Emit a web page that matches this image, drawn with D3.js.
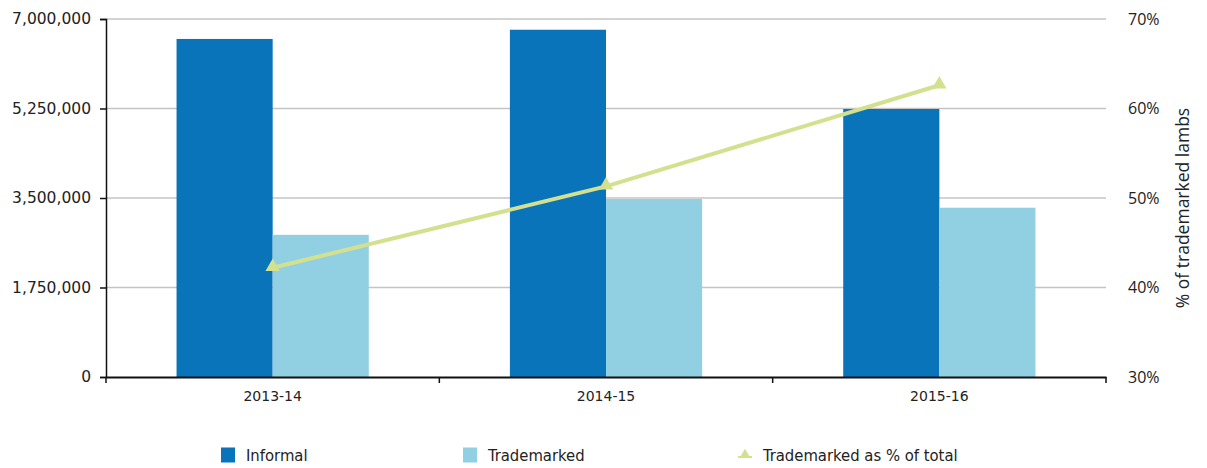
<!DOCTYPE html>
<html>
<head>
<meta charset="utf-8">
<script src="https://cdn.jsdelivr.net/npm/d3@7"></script>
<style>
  body { margin: 0; background: #fff; }
  text { font-family: "DejaVu Sans", sans-serif; fill: #222; }
</style>
</head>
<body>
<svg class="chart"></svg>
<script>
var width = 1207,
    height = 468;

var categories = ["2013-14", "2014-15", "2015-16"];
var informal = [6610000, 6790000, 5240000];
var trademarked = [2780000, 3480000, 3310000];
var pctTrademarked = [42.2, 51.3, 62.6];
var leftTicks = [0, 1750000, 3500000, 5250000, 7000000];
var rightTicks = [30, 40, 50, 60, 70];

var margin = {left: 106, right: 101, top: 19, bottom: 91};
var x0 = d3.scaleBand()
    .domain(categories)
    .range([margin.left, width - margin.right]);
var x1 = d3.scaleBand()
    .domain(["Informal", "Trademarked"])
    .range([0, x0.bandwidth()])
    .paddingOuter(0.734);
var y = d3.scaleLinear()
    .domain([0, 7000000])
    .range([height - margin.bottom, margin.top]);
var y2 = d3.scaleLinear()
    .domain([30, 70])
    .range([height - margin.bottom, margin.top]);

var colors = {Informal: "#0a74bb", Trademarked: "#91d0e2"};
var lineColor = "#d3e08e";

var chart = d3.select(".chart")
    .attr("width", width)
    .attr("height", height);

// gridlines
chart.append("g").selectAll("line")
    .data(leftTicks.slice(1))
  .enter().append("line")
    .attr("x1", margin.left).attr("x2", width - margin.right)
    .attr("y1", function(d) { return y(d); })
    .attr("y2", function(d) { return y(d); })
    .attr("stroke", "#c4c4c4").attr("stroke-width", 1.5);

// bars
var data = categories.map(function(c, i) {
  return {cat: c, values: [{key: "Informal", v: informal[i]}, {key: "Trademarked", v: trademarked[i]}]};
});
var group = chart.append("g").selectAll("g")
    .data(data)
  .enter().append("g")
    .attr("transform", function(d) { return "translate(" + x0(d.cat) + ",0)"; });
group.selectAll("rect")
    .data(function(d) { return d.values; })
  .enter().append("rect")
    .attr("x", function(d) { return x1(d.key); })
    .attr("width", x1.bandwidth())
    .attr("y", function(d) { return y(d.v); })
    .attr("height", function(d) { return y(0) - y(d.v); })
    .attr("fill", function(d) { return colors[d.key]; });

// left axis
var leftAxis = chart.append("g")
    .attr("transform", "translate(" + margin.left + ",0)")
    .call(d3.axisLeft(y).tickValues(leftTicks).tickFormat(d3.format(",")).tickSizeOuter(0).tickSize(6).tickPadding(9));
leftAxis.select(".domain").attr("stroke", "#111").attr("stroke-width", 1.5);
leftAxis.selectAll(".tick line").attr("stroke", "#111").attr("stroke-width", 1.5);
leftAxis.selectAll("text").style("font-size", "15.5px").attr("fill", "#222");

// bottom axis
var bottomAxis = chart.append("g")
    .attr("transform", "translate(0," + y(0) + ")")
    .call(d3.axisBottom(x0).tickSize(0).tickPadding(14));
bottomAxis.select(".domain").attr("stroke", "#111").attr("stroke-width", 2);
bottomAxis.selectAll("text").style("font-size", "14px").attr("fill", "#222");
var bounds = categories.map(function(c) { return x0(c); }).concat([width - margin.right]);
bottomAxis.selectAll(".sep")
    .data(bounds)
  .enter().append("line")
    .attr("x1", function(d) { return d; }).attr("x2", function(d) { return d; })
    .attr("y1", 0).attr("y2", 6)
    .attr("stroke", "#111").attr("stroke-width", 1.5);

// right axis
var rightAxis = chart.append("g")
    .attr("transform", "translate(" + (width - margin.right) + ",0)")
    .call(d3.axisRight(y2).tickValues(rightTicks).tickFormat(function(d) { return d + "%"; }).tickSize(0).tickPadding(22));
rightAxis.select(".domain").remove();
rightAxis.selectAll("text").style("font-family", "'Open Sans', sans-serif").style("font-size", "16px").attr("fill", "#222");

chart.append("text")
    .attr("transform", "translate(1189," + ((margin.top + y(0)) / 2 + 10) + ") rotate(-90)")
    .attr("text-anchor", "middle")
    .style("font-family", "'Open Sans', sans-serif")
    .style("font-size", "17.5px")
    .text("% of trademarked lambs");

// line
var pts = categories.map(function(c, i) { return {cat: c, v: pctTrademarked[i]}; });
var line = d3.line()
    .x(function(d) { return x0(d.cat) + x0.bandwidth() / 2; })
    .y(function(d) { return y2(d.v); });
chart.append("path")
    .datum(pts)
    .attr("d", line)
    .attr("fill", "none")
    .attr("stroke", lineColor)
    .attr("stroke-width", 4);
chart.append("g").selectAll("path")
    .data(pts)
  .enter().append("path")
    .attr("d", d3.symbol().type(d3.symbolTriangle).size(90))
    .attr("transform", function(d) { return "translate(" + (x0(d.cat) + x0.bandwidth() / 2) + "," + (y2(d.v) - 1) + ")"; })
    .attr("fill", lineColor);

// legend
var legend = chart.append("g").attr("transform", "translate(0,455)");
var items = [
  {label: "Informal", x: 221, type: "rect", color: colors.Informal},
  {label: "Trademarked", x: 463, type: "rect", color: colors.Trademarked},
  {label: "Trademarked as % of total", x: 738, type: "tri", color: lineColor}
];
items.forEach(function(it) {
  if (it.type === "rect") {
    legend.append("rect").attr("x", it.x).attr("y", -7.5).attr("width", 14).attr("height", 15).attr("fill", it.color);
  } else {
    legend.append("path")
      .attr("d", d3.symbol().type(d3.symbolTriangle).size(50))
      .attr("transform", "translate(" + (it.x + 7) + ",0)")
      .attr("fill", it.color);
    legend.append("line").attr("x1", it.x).attr("x2", it.x + 14).attr("y1", 2).attr("y2", 2)
      .attr("stroke", it.color).attr("stroke-width", 2);
  }
  legend.append("text")
    .attr("x", it.x + 25)
    .attr("dy", "0.35em")
    .style("font-family", "'DejaVu Sans Condensed', 'DejaVu Sans', sans-serif")
    .style("font-size", "16.5px")
    .text(it.label);
});
</script>
</body>
</html>
